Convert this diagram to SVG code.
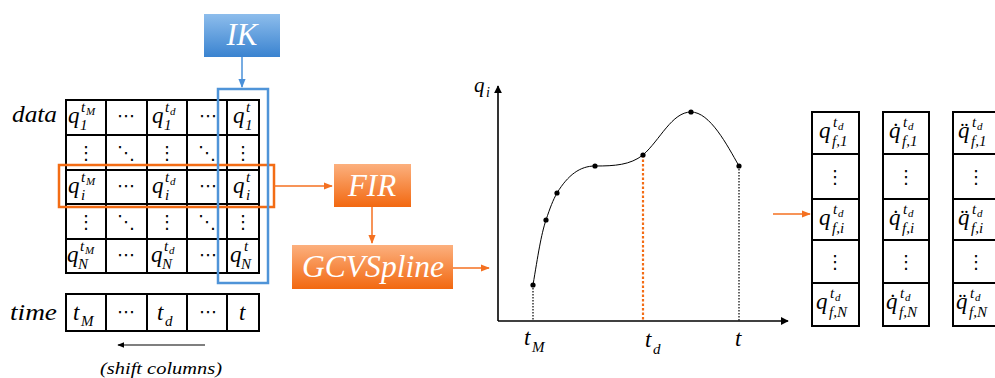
<svg xmlns="http://www.w3.org/2000/svg" width="995" height="378" viewBox="0 0 995 378">
<defs>
<linearGradient id="gBlue" x1="0" y1="0" x2="0" y2="1"><stop offset="0" stop-color="#8dbdec"/><stop offset="1" stop-color="#3a83d0"/></linearGradient>
<linearGradient id="gOr" x1="0" y1="0" x2="0" y2="1"><stop offset="0" stop-color="#fcb07e"/><stop offset="1" stop-color="#f26810"/></linearGradient>
<marker id="aB" viewBox="0 0 10 10" refX="9" refY="5" markerWidth="6" markerHeight="6" orient="auto"><path d="M0,1 L10,5 L0,9 z" fill="#4a90d9"/></marker>
<marker id="aO" viewBox="0 0 10 10" refX="9" refY="5" markerWidth="6" markerHeight="6" orient="auto"><path d="M0,1 L10,5 L0,9 z" fill="#f47020"/></marker>
<marker id="aK" viewBox="0 0 10 10" refX="9" refY="5" markerWidth="6" markerHeight="6" orient="auto"><path d="M0,1 L10,5 L0,9 z" fill="#000"/></marker>
<marker id="aX" viewBox="0 0 10 10" refX="9" refY="5" markerWidth="5" markerHeight="5" orient="auto"><path d="M0,0 L10,5 L0,10 z" fill="#000"/></marker>
<style>
.m{font-family:"Liberation Serif","DejaVu Serif",serif;font-style:italic;fill:#000}
.q{font-size:23px}
.s{font-size:15px}
.ss{font-size:11px}
.d{font-family:"DejaVu Sans",sans-serif;font-size:18px;text-anchor:middle;fill:#000}
.grid{fill:none;stroke:#000;stroke-width:2}
.w{font-family:"Liberation Serif","DejaVu Serif",serif;font-style:italic;fill:#fff;text-anchor:middle}
.lbl{font-family:"Liberation Serif","DejaVu Serif",serif;font-style:italic;font-size:23px;fill:#000}
</style>
</defs>

<g id="data-matrix">
<text class="lbl" x="12" y="122" textLength="45" lengthAdjust="spacingAndGlyphs">data</text>
<rect class="grid" x="66" y="100" width="193" height="173"/>
<path class="grid" d="M106,100V273M147,100V273M187,100V273M227,100V273M66,135H259M66,170H259M66,204H259M66,239H259"/>
<!-- row 1 -->
<text class="m q" x="68" y="123">q</text><text class="m s" x="81" y="112">t</text><text class="m ss" x="86" y="115">M</text><text class="m s" x="80" y="130">1</text>
<text class="d" x="126" y="122">⋯</text>
<text class="m q" x="152" y="123">q</text><text class="m s" x="165" y="112">t</text><text class="m ss" x="170" y="115">d</text><text class="m s" x="164" y="130">1</text>
<text class="d" x="208" y="122">⋯</text>
<text class="m q" x="233" y="123">q</text><text class="m s" x="246" y="112">t</text><text class="m s" x="245" y="130">1</text>
<!-- row 2 -->
<text class="d" x="86" y="159">⋮</text><text class="d" x="126" y="159">⋱</text><text class="d" x="167" y="159">⋮</text><text class="d" x="207" y="159">⋱</text><text class="d" x="243" y="159">⋮</text>
<!-- row 3 -->
<text class="m q" x="68" y="193">q</text><text class="m s" x="81" y="182">t</text><text class="m ss" x="86" y="185">M</text><text class="m s" x="81" y="200">i</text>
<text class="d" x="126" y="192">⋯</text>
<text class="m q" x="152" y="193">q</text><text class="m s" x="165" y="182">t</text><text class="m ss" x="170" y="185">d</text><text class="m s" x="165" y="200">i</text>
<text class="d" x="208" y="192">⋯</text>
<text class="m q" x="233" y="193">q</text><text class="m s" x="246" y="182">t</text><text class="m s" x="246" y="200">i</text>
<!-- row 4 -->
<text class="d" x="86" y="228">⋮</text><text class="d" x="126" y="228">⋱</text><text class="d" x="167" y="228">⋮</text><text class="d" x="207" y="228">⋱</text><text class="d" x="243" y="228">⋮</text>
<!-- row 5 -->
<text class="m q" x="67" y="262">q</text><text class="m s" x="80" y="251">t</text><text class="m ss" x="85" y="254">M</text><text class="m s" x="78" y="269">N</text>
<text class="d" x="126" y="261">⋯</text>
<text class="m q" x="151" y="262">q</text><text class="m s" x="164" y="251">t</text><text class="m ss" x="169" y="254">d</text><text class="m s" x="162" y="269">N</text>
<text class="d" x="208" y="261">⋯</text>
<text class="m q" x="230" y="262">q</text><text class="m s" x="244" y="251">t</text><text class="m s" x="241" y="269">N</text>
</g>

<g id="row-highlight"><rect x="59" y="165" width="215" height="42" fill="none" stroke="#f36c14" stroke-width="2.5"/></g>
<g id="col-highlight"><rect x="218" y="89" width="50" height="194" fill="none" stroke="#4f94d8" stroke-width="2.5"/></g>

<g id="time-row">
<text class="lbl" x="10" y="320" textLength="47" lengthAdjust="spacingAndGlyphs">time</text>
<rect class="grid" x="66" y="294" width="193" height="37"/>
<path class="grid" d="M106,294V331M147,294V331M187,294V331M227,294V331"/>
<text class="m q" x="73" y="320">t</text><text class="m s" x="81" y="326">M</text>
<text class="d" x="126" y="318">⋯</text>
<text class="m q" x="157" y="320">t</text><text class="m s" x="165" y="326">d</text>
<text class="d" x="208" y="318">⋯</text>
<text class="m q" x="239" y="320">t</text>
<text class="m" x="100" y="374" font-size="17" textLength="122" lengthAdjust="spacingAndGlyphs">(shift columns)</text>
</g>

<g id="IK"><rect x="204" y="14" width="76" height="43" fill="url(#gBlue)"/><text class="w" x="242" y="45" font-size="31">IK</text></g>
<g id="FIR"><rect x="334" y="164" width="77" height="43" fill="url(#gOr)"/><text class="w" x="372" y="196" font-size="31">FIR</text></g>
<g id="GCVSpline"><rect x="292" y="245" width="161" height="44" fill="url(#gOr)"/><text class="w" x="373" y="277" font-size="31" textLength="142" lengthAdjust="spacingAndGlyphs">GCVSpline</text></g>

<g id="plot">
<path d="M498,321V86" stroke="#000" stroke-width="1.6" marker-end="url(#aX)"/>
<path d="M498,321H788" stroke="#000" stroke-width="1.6" marker-end="url(#aX)"/>
<text class="m" x="474" y="92" font-size="21">q</text><text class="m" x="486" y="97" font-size="14">i</text>
<path d="M533,285V321M739,166V321" stroke="#000" stroke-width="1.2" stroke-dasharray="1.5,1.5"/>
<path d="M643,155V321" stroke="#f36c14" stroke-width="2.2" stroke-dasharray="2.5,2"/>
<path d="M533,285 C538,255 541,235 546,220 C550,208 553,200 557,193 C568,175 580,166 595,166 C615,166 630,165 643,155 C660,140 672,112 691,112 C710,112 727,145 739,166" fill="none" stroke="#000" stroke-width="1"/>
<g fill="#000"><circle cx="533" cy="285" r="2.6"/><circle cx="546" cy="220" r="2.6"/><circle cx="557" cy="193" r="2.6"/><circle cx="595" cy="166" r="2.6"/><circle cx="643" cy="155" r="2.6"/><circle cx="691" cy="112" r="2.6"/><circle cx="739" cy="166" r="2.6"/></g>
<text class="m q" x="524" y="345">t</text><text class="m s" x="532" y="352">M</text>
<text class="m q" x="645" y="347">t</text><text class="m s" x="653" y="354">d</text>
<text class="m q" x="735" y="346">t</text>
</g>

<g id="out-q">
<rect class="grid" x="812" y="112" width="47" height="214"/>
<path class="grid" d="M812,154H859M812,199H859M812,240H859M812,283H859"/>
<text class="m q" x="819" y="138">q</text><text class="m s" x="833" y="127">t</text><text class="m ss" x="838" y="130">d</text><text class="m s" x="832" y="146">f,1</text>
<text class="d" x="835" y="183">⋮</text>
<text class="m q" x="819" y="225">q</text><text class="m s" x="833" y="214">t</text><text class="m ss" x="838" y="217">d</text><text class="m s" x="832" y="233">f,i</text>
<text class="d" x="835" y="268">⋮</text>
<text class="m q" x="816" y="309">q</text><text class="m s" x="830" y="298">t</text><text class="m ss" x="835" y="301">d</text><text class="m s" x="829" y="317">f,N</text>
</g>

<g id="out-qd">
<rect class="grid" x="883" y="112" width="46" height="214"/>
<path class="grid" d="M883,154H929M883,199H929M883,240H929M883,283H929"/>
<text class="m q" x="889" y="138">q̇</text><text class="m s" x="903" y="127">t</text><text class="m ss" x="908" y="130">d</text><text class="m s" x="902" y="146">f,1</text>
<text class="d" x="906" y="183">⋮</text>
<text class="m q" x="889" y="225">q̇</text><text class="m s" x="903" y="214">t</text><text class="m ss" x="908" y="217">d</text><text class="m s" x="902" y="233">f,i</text>
<text class="d" x="906" y="268">⋮</text>
<text class="m q" x="886" y="309">q̇</text><text class="m s" x="900" y="298">t</text><text class="m ss" x="905" y="301">d</text><text class="m s" x="899" y="317">f,N</text>
</g>

<g id="out-qdd">
<rect class="grid" x="953" y="112" width="47" height="214"/>
<path class="grid" d="M953,154H1000M953,199H1000M953,240H1000M953,283H1000"/>
<text class="m q" x="958" y="138">q̈</text><text class="m s" x="972" y="127">t</text><text class="m ss" x="977" y="130">d</text><text class="m s" x="971" y="146">f,1</text>
<text class="d" x="976" y="183">⋮</text>
<text class="m q" x="958" y="225">q̈</text><text class="m s" x="972" y="214">t</text><text class="m ss" x="977" y="217">d</text><text class="m s" x="971" y="233">f,i</text>
<text class="d" x="976" y="268">⋮</text>
<text class="m q" x="956" y="309">q̈</text><text class="m s" x="970" y="298">t</text><text class="m ss" x="975" y="301">d</text><text class="m s" x="969" y="317">f,N</text>
</g>

<g id="connectors" fill="none">
<path d="M242,57V87" stroke="#4a90d9" stroke-width="1.5" marker-end="url(#aB)"/>
<path d="M274,186H332" stroke="#f47020" stroke-width="1.5" marker-end="url(#aO)"/>
<path d="M372,207V243" stroke="#f47020" stroke-width="1.5" marker-end="url(#aO)"/>
<path d="M453,268H489" stroke="#f47020" stroke-width="1.5" marker-end="url(#aO)"/>
<path d="M773,214H810" stroke="#f47020" stroke-width="1.5" marker-end="url(#aO)"/>
<path d="M205,345H118" stroke="#000" stroke-width="1.2" marker-end="url(#aK)"/>
</g>
</svg>
